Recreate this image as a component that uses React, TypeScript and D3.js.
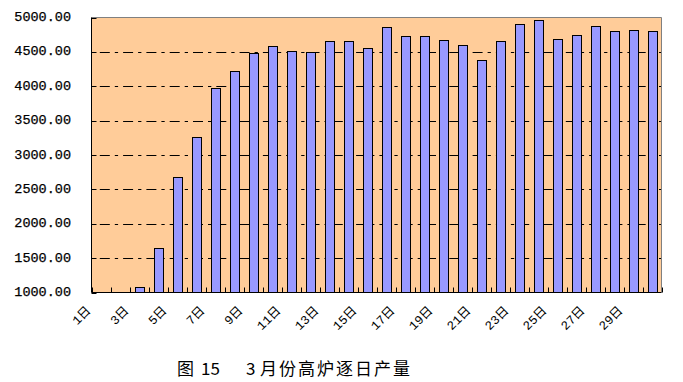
import React from "react";
import * as d3 from "d3";

const days: string[] = Array.from({ length: 30 }, (_, i) => `${i + 1}日`);
const output: number[] = [
  0, 0, 1080, 1650, 2680, 3265, 3977, 4224, 4488, 4588,
  4510, 4500, 4661, 4661, 4559, 4864, 4733, 4733, 4675, 4602,
  4384, 4661, 4908, 4966, 4690, 4748, 4879, 4806, 4821, 4806,
];
const yTicks: number[] = [1000, 1500, 2000, 2500, 3000, 3500, 4000, 4500, 5000];
const gridValues: number[] = [1500, 2000, 2500, 3000, 3500, 4000, 4500];
const shownLabels: string[] = days.filter((_, i) => i % 2 === 0);
const captionFig = "图";
const captionNo = "15";
const captionNum = "3";
const captionText = "月份高炉逐日产量";

const W = 683;
const H = 382;
const L = 91.5;
const R = 661.5;
const T = 17.5;
const B = 292.5;

export default function App() {
  const x = d3
    .scaleBand<string>()
    .domain(days)
    .range([L, R])
    .paddingInner(0.55)
    .paddingOuter(0.275);
  const y = d3.scaleLinear().domain([1000, 5000]).range([B, T]).clamp(true);
  const step = x.step();
  const boundaries = d3.range(days.length + 1).map((i) => L + i * step);
  const capFont = "'Noto Sans CJK SC', 'Liberation Serif', serif";

  return (
    <svg
      width={W}
      height={H}
      style={{ position: "absolute", left: 0, top: 0, background: "#fff" }}
    >
      <rect x={L} y={T} width={R - L} height={B - T} fill="#FFCC99" />
      {gridValues.map((v) => (
        <line
          key={"g" + v}
          x1={L}
          x2={R}
          y1={Math.round(y(v)) + 0.5}
          y2={Math.round(y(v)) + 0.5}
          stroke="#000"
          strokeWidth={1}
          strokeDasharray="3.3,5,10,5"
        />
      ))}
      <line x1={L} x2={R} y1={T} y2={T} stroke="#808080" strokeWidth={1} />
      <line x1={R} x2={R} y1={T} y2={B} stroke="#808080" strokeWidth={1} />
      {days.map((d, i) => {
        const v = output[i];
        const top = y(v);
        const h = B - top;
        if (h <= 0.5) return null;
        const bx = Math.round(x(d)!) + 0.5;
        const ty = Math.round(top) + 0.5;
        return (
          <rect
            key={d}
            x={bx}
            y={ty}
            width={Math.round(x.bandwidth())}
            height={B - ty}
            fill="#9999FF"
            stroke="#000"
            strokeWidth={1}
          />
        );
      })}
      <line x1={L} x2={L} y1={T} y2={B} stroke="#000" strokeWidth={1} />
      <line x1={L} x2={R} y1={B} y2={B} stroke="#000" strokeWidth={1} />
      {yTicks.map((v) => (
        <line
          key={"yt" + v}
          x1={L}
          x2={L + 5}
          y1={Math.round(y(v)) + 0.5}
          y2={Math.round(y(v)) + 0.5}
          stroke="#000"
        />
      ))}
      {boundaries.map((bx, i) => (
        <line
          key={"xt" + i}
          x1={Math.round(bx) + 0.5}
          x2={Math.round(bx) + 0.5}
          y1={B}
          y2={B - 5}
          stroke="#000"
        />
      ))}
      {yTicks.map((v) => (
        <text
          key={"yl" + v}
          x={71}
          y={y(v)}
          textAnchor="end"
          dominantBaseline="middle"
          fontFamily="'Liberation Mono', 'DejaVu Sans Mono', monospace"
          fontSize={13.5}
          stroke="#000"
          strokeWidth={0.25}
          fill="#000"
        >
          {v.toFixed(2)}
        </text>
      ))}
      {shownLabels.map((d) => {
        const cx = x(d)! + x.bandwidth() / 2 - 12;
        const cy = 309;
        return (
          <text
            key={"xl" + d}
            x={cx}
            y={cy}
            transform={`rotate(-45 ${cx} ${cy})`}
            textAnchor="end"
            dominantBaseline="middle"
            fontFamily="'Liberation Mono', 'Noto Sans CJK SC', monospace"
            fontSize={12.5}
            fill="#000"
          >
            {d}
          </text>
        );
      })}
      <text x={177} y={375} fontFamily={capFont} fontSize={17} fill="#000">
        {captionFig}
      </text>
      <text x={201} y={375} fontFamily={capFont} fontSize={17} fill="#000">
        {captionNo}
      </text>
      <text x={246} y={375} fontFamily={capFont} fontSize={17} fill="#000">
        {captionNum}
      </text>
      <text
        x={260}
        y={375}
        fontFamily={capFont}
        fontSize={17}
        textLength={150}
        lengthAdjust="spacing"
        fill="#000"
      >
        {captionText}
      </text>
    </svg>
  );
}
